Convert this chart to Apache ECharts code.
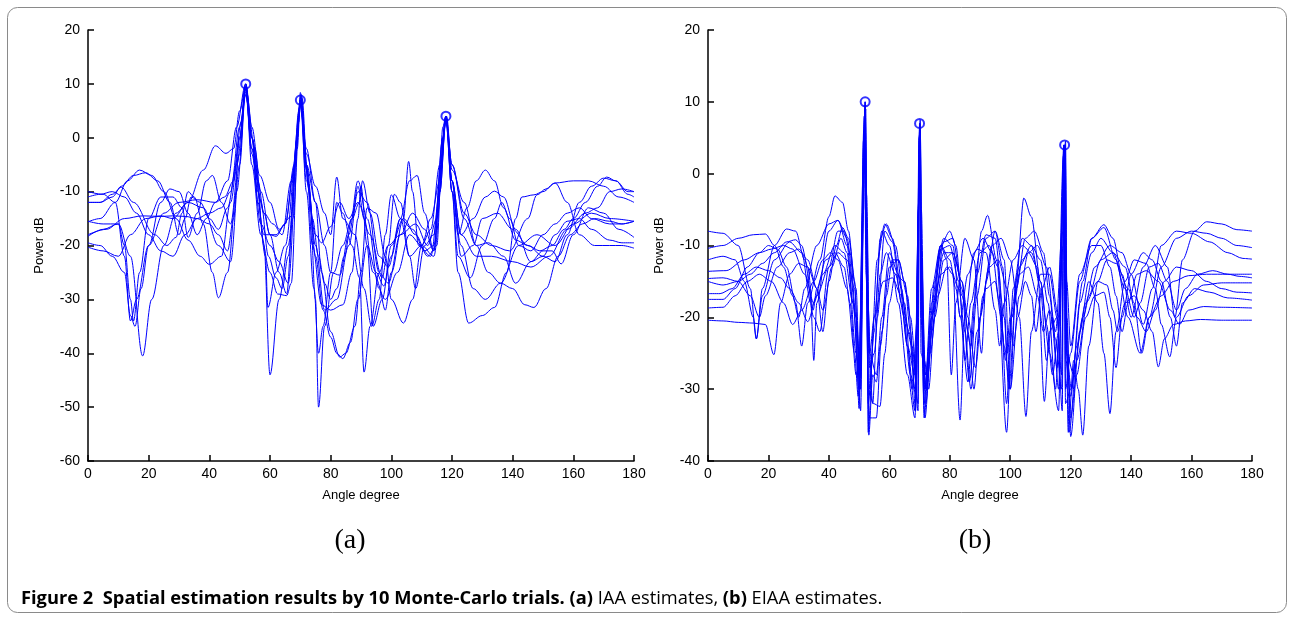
<!DOCTYPE html>
<html><head><meta charset="utf-8">
<script src="https://cdn.jsdelivr.net/npm/echarts@6/dist/echarts.min.js"></script>
<style>html,body{margin:0;padding:0;background:#fff}#c{width:1293px;height:620px}</style>
</head><body><div id="c"></div>
<script>
// ---------- axes ----------
const angleTicks = [0,20,40,60,80,100,120,140,160,180];
const powerTicksA = [-60,-50,-40,-30,-20,-10,0,10,20];
const powerTicksB = [-40,-30,-20,-10,0,10,20];
// ---------- true source peaks (circles) ----------
const peaksA = [[52,10],[70,7],[118,4]];
const peaksB = [[52,10],[70,7],[118,4]];
// ---------- (a) IAA, 10 trials: [angle, dB] ----------
const iaa01 = [[0,-10],[5,-10.5],[9,-12],[12,-22],[14,-34],[16,-30],[20,-20],[25,-14],[30,-12],[36,-11.5],[42,-12],[46,-8],[49,2],[52,10],[54,0],[58,-18],[62,-18],[65,-16],[68,-5],[70,7],[72,-5],[75,-20],[78,-32],[82,-30],[86,-20],[89,-10],[92,-12],[96,-25],[99,-27],[103,-18],[108,-16],[112,-20],[115,-15],[118,4],[120,-10],[123,-20],[127,-28],[131,-30],[136,-27],[142,-20],[148,-18],[154,-20],[160,-16],[166,-14],[172,-15],[180,-15.5]];
const iaa02 = [[0,-18.3],[5,-17],[10,-16],[14,-22],[18,-40.5],[21,-30],[25,-20],[29,-14],[33,-12],[38,-13],[43,-20],[47,-23],[50,-5],[52,9],[55,-2],[58,-20],[60,-44],[63,-30],[66,-20],[69,0],[70,7.5],[73,-10],[75,-30],[76,-50],[78,-35],[81,-25],[84,-20],[87,-15],[89,-9],[91,-15],[94,-25],[98,-30],[102,-25],[106,-18],[110,-20],[114,-22],[118,3],[120,-10],[122,-25],[125.5,-34.4],[130,-33],[134,-31.5],[138,-25],[141,-15],[143,-11],[147,-10.6],[150,-10],[154,-8.4],[160,-8],[165,-8],[170,-9],[175,-11],[180,-12]];
const iaa03 = [[0,-15.6],[4,-15],[9,-12],[13,-8],[17,-6],[21,-7],[25,-10],[29,-15],[33,-19],[37,-22],[40,-23.5],[44,-22],[47,-12],[50,0],[52,10],[54,2],[56.6,-7],[60,-12],[63,-17],[67,-14.6],[69.5,5],[70.3,8],[72,-5],[74,-20],[77,-31],[80,-32],[84,-31],[87,-25],[89,-15],[90,-9],[92,-20],[94,-35],[97,-30],[100,-20],[104,-15],[108,-18],[112,-22],[115,-20],[117,2],[118,4],[120,-8],[123,-18],[128,-22],[133,-22],[140,-23],[146,-24],[152,-22],[158,-17],[164,-14],[168,-13],[172,-10],[176,-9.5],[180,-10]];
const iaa04 = [[0,-20.3],[5,-21],[10,-22],[14,-18],[19,-15],[24,-14.5],[28,-15],[33,-12],[38,-6],[42,-1.5],[45.5,-2.9],[48,-2],[50,5],[52,9.5],[54,0],[57,-10],[60,-18],[63,-25],[65.5,-29],[67.5,-15],[70,6],[72,-3],[75,-9],[78,-14],[80,-18],[82,-7.3],[84,-15],[88,-18],[91,-28],[93.5,-35],[96,-30],[98,-18],[100,-10.6],[103,-15],[106,-22],[110,-20],[113,-17],[116,-5],[118,4],[120,-5],[124,-15],[128,-20],[132,-19.5],[137,-22],[141,-27],[146,-23],[150,-21],[153,-21],[156,-23.4],[160,-18],[165,-13],[170,-14],[175,-17],[180,-18.5]];
const iaa05 = [[0,-12],[4,-12],[8,-10.5],[11,-9.2],[15,-12],[22,-18],[26,-20],[29,-18.5],[31,-14],[33,-10],[35,-11],[38,-16],[41,-25],[43,-29.7],[46,-25],[49,-10],[52,8],[54,0],[56,-12],[58.5,-22],[59.3,-31.5],[62,-25],[65,-20],[69,-2],[70,7],[72,-5],[75,-12],[78,-20],[80,-25],[83,-25.5],[86,-18],[89,-8],[92,-15],[96,-28],[98,-32],[100,-25],[104,-15],[105.7,-4.4],[107,-10],[109,-20],[113,-22],[116,-10],[118,3.5],[120,-5],[124,-14],[128,-18],[133,-20],[139,-21],[145,-15],[148,-10.6],[151,-9.5],[154,-8.4],[158,-12],[162,-18],[167,-20],[172,-20],[176,-20],[180,-20.5]];
const iaa06 = [[0,-19.5],[4,-20],[8,-22],[12,-25],[14,-33],[15.5,-35],[17.5,-28],[20,-20],[24,-12],[27,-9.5],[30,-10],[33,-14],[36,-18],[39,-15],[42,-12],[45,-11],[48,-8],[50.5,3],[52,10],[54,0],[56,-8],[58,-14],[61,-16],[64,-18],[67,-8],[70,6],[72,-8],[75,-18],[77,-19.5],[80,-16.5],[83,-12],[86,-15],[89,-12],[93,-18],[97,-26],[99,-20],[101,-10.5],[103,-12],[106,-22],[108,-28],[111,-20],[114,-18],[117,0],[118,4],[120,-8],[123,-22],[127,-20],[130,-15],[135,-14],[140,-17],[145,-20],[150,-22],[154,-23],[158,-18],[162,-12],[166,-9],[170,-7.5],[174,-8],[178,-10],[180,-10]];
const iaa07 = [[0,-18],[6,-17],[12,-15],[18,-14.5],[24,-14.6],[28,-14.5],[32,-14.6],[36,-15],[40,-16],[43,-18],[46,-21],[48,-15],[50,0],[52,9],[54,-3],[57,-16],[60,-20],[63,-23],[66,-27],[69.5,3],[70,8.4],[72,-10],[74.5,-28],[76,-40],[77.5,-35],[80,-25],[82,-12],[84,-14],[87,-20],[89.5,-26],[91,-43.5],[93,-35],[96,-25],[99,-20],[103,-18],[107,-14],[111,-17],[114,-21],[116,-10],[118,3],[120,-10],[122,-22],[126,-26],[130,-20],[134,-15],[136.4,-12],[139,-15],[142,-20],[146,-21],[150,-18],[154,-16],[158,-14],[162,-13],[166,-15],[172,-16],[176,-16],[180,-15.5]];
const iaa08 = [[0,-11],[4,-10.5],[8,-10],[12,-11],[16,-14],[20,-18],[24,-21],[28,-22],[32,-18],[36,-15],[40,-14],[44,-13],[47,-10],[50,2],[52,8.5],[54,-2],[56,-10],[58,-14],[60,-18],[62,-18.3],[65,-16],[68,-6],[70,6.5],[72,-2],[75,-12],[77,-25],[80,-36],[83,-40.7],[85,-40],[88,-35],[90,-25],[92,-13],[95,-14],[98,-22],[100,-30],[104,-34.4],[107,-30],[110,-20],[113,-15],[116,-8],[118,3.5],[120,-8],[123,-18],[127,-15],[131,-11],[134,-9.9],[137,-11],[141,-17],[146,-23],[150,-22],[154,-18],[158,-15.5],[162,-15],[166,-17],[172,-19],[176,-19.5],[180,-19.5]];
const iaa09 = [[0,-12],[4,-12],[8,-11],[11,-9],[15,-7],[19,-6.5],[23,-8],[27,-12],[30,-18],[32,-15],[34,-11],[37,-12],[40,-15],[43,-17],[46,-13],[49,-5],[52,8],[54,-2],[57,-12],[59.5,-22],[62,-26],[64,-28],[66,-22],[69,0],[70,7],[72,-6],[74,-15],[76,-22],[78,-27],[80,-30],[82,-28],[84.5,-22],[87,-15],[89.5,-12],[90.5,-8],[93,-14],[96,-22],[99,-24],[103,-15],[106,-8],[108.5,-7],[111,-14],[114,-21],[116.5,-5],[118,4],[120,-8],[122,-18],[125,-13],[128,-8],[131,-6],[134,-8],[137,-13],[141,-19],[145,-20],[149,-21],[153,-20],[157,-17],[160,-15],[164,-12],[168,-9],[171,-7.3],[174,-8],[178,-10.5],[180,-11]];
const iaa10 = [[0,-15.5],[5,-16],[10,-16],[12,-20],[14,-30],[15,-34],[17,-25],[20,-15],[24,-11],[28,-11],[31,-13],[33,-18.5],[36,-14],[39,-8],[41,-7],[44,-12],[47,-16],[50,-3],[52,9.5],[54,-5],[57,-18],[60,-25],[62.5,-29],[65.5,-29.3],[67,-27],[69.5,4],[70.5,7.5],[72.5,-8],[75,-22],[77.5,-32],[80,-37],[82,-40],[84,-41],[86.5,-38],[89,-30],[92,-20],[95,-25],[97.5,-27.5],[100,-22],[103,-15],[107,-17],[111,-21],[114,-20],[117,0],[118.2,4],[120,-6],[124,-12],[128,-20],[132,-25],[136,-27],[140,-28],[144,-31],[147,-31.5],[151,-28],[155,-22],[159,-18],[163,-16],[167,-15],[172,-15.5],[176,-16],[180,-15.5]];
// ---------- (b) EIAA, 10 trials: [angle, dB] ----------
const eiaa01 = [[0,-8],[5,-8.3],[10,-10],[14,-16],[16,-23],[18,-17],[22,-12],[27,-9.5],[31,-11],[34,-18],[35,-26],[36,-18],[40,-8],[43,-6.5],[46,-9],[49,-20],[50.5,-33],[51.5,-5],[52,10],[52.5,-10],[53,-36],[55,-20],[57.5,-8],[60,-10],[63,-18],[66,-28],[68.5,-34],[69.6,-5],[70,7],[70.4,-8],[71.5,-34],[74,-18],[77,-10],[79,-12],[80.5,-28],[82,-18],[85,-9],[88,-12],[90.5,-25],[92,-15],[95,-8],[98,-12],[100,-30],[102,-15],[104.5,-3.4],[107,-6],[110,-15],[113,-25],[116,-33],[117.7,4],[118.3,-30],[120,-25],[123,-15],[127,-9],[131,-7.1],[134,-9],[137,-14],[140,-20],[144,-13],[148,-10],[152,-13],[154.5,-20],[157,-12],[161,-8],[165,-6.7],[170,-7],[175,-7.8],[180,-8]];
const eiaa02 = [[0,-10.4],[5,-10],[10,-9],[15,-8.5],[19,-8.4],[22,-10],[25,-13],[28,-17],[30,-20],[32,-16],[36,-10],[40,-7],[43,-6.5],[46,-10],[49,-25],[50.5,-30],[51.5,4],[52,9],[52.5,-12],[53.5,-30],[56,-12],[58.5,-7],[61,-9],[64,-16],[67,-28],[69,-31],[69.8,5],[70.2,6],[70.8,-20],[72,-30],[75,-15],[78,-9],[81,-10],[83.5,-20],[86,-29],[88,-18],[90.5,-8],[92.5,-5.8],[95.5,-12],[98.8,-36],[101,-16],[104,-9],[107,-10],[110,-16],[112,-26],[114,-20],[116,-30],[117.7,3],[118.3,-32],[120,-30],[124,-15],[127,-9],[131,-7.5],[135,-12],[139,-20],[143,-25],[146,-20],[150,-13],[155,-9],[160,-8],[165,-8.3],[170,-9],[175,-10],[180,-10.3]];
const eiaa03 = [[0,-12],[5,-11.5],[9,-12],[12,-15],[15,-20],[16,-23],[18,-16],[22,-10],[26,-7.7],[29,-8],[32,-12],[35,-20],[37,-22],[40,-13],[43,-8],[45,-8],[47,-11],[49,-20],[50.5,-28],[51.5,-2],[52,8],[52.5,-15],[54.5,-32],[56,-20],[58.5,-8],[61,-9.5],[64,-18],[66,-24],[68.5,-28],[69.7,-4],[70,6.5],[70.5,-10],[72,-28],[74,-20],[77,-10],[80,-8],[82,-10],[84,-17],[87,-24],[89,-14],[92,-8.5],[95,-9],[98,-20],[99.5,-30],[102,-16],[105,-9],[108,-8],[111,-11],[113,-17],[115.5,-27],[117.6,2.5],[118.2,4],[118.7,-25],[121,-28],[124,-20],[128,-13],[133,-10],[137,-11],[140,-14],[144,-21],[147,-16],[150,-10],[155,-8],[160,-8.3],[166,-9.5],[172,-11],[177,-11.8],[180,-11.9]];
const eiaa04 = [[0,-13.6],[6,-13.5],[12,-12],[17,-11],[21,-10.5],[25,-10],[28,-10.5],[32,-14],[35,-18],[38,-14],[42,-10],[45,-11],[48,-18],[50,-30],[51.6,0],[52,7],[52.4,-5],[53.5,-25],[55.7,-28],[57.5,-20],[60,-11],[63,-14],[66,-24],[68.5,-33],[69.8,-3],[70.1,6],[70.5,-15],[71.8,-34],[74,-22],[77,-10.5],[80,-10],[83,-15],[85,-26],[87,-18],[90,-11],[93,-10],[96,-13],[98,-24],[100,-30],[103,-17],[106,-11],[109,-10],[112,-13],[115,-22],[117.6,-5],[118,4],[118.5,-20],[119.5,-36],[122,-26],[126,-17],[130,-12],[134,-11],[138,-13],[141,-18],[143.5,-25],[146,-20],[150,-17],[154,-15],[159,-14.2],[165,-14],[172,-14],[180,-14]];
const eiaa05 = [[0,-14.6],[5,-14.5],[10,-15],[14,-17],[17,-20],[19,-17],[23,-13],[27,-11],[30,-10.5],[33,-12],[36,-16],[38,-22],[40,-15],[42.5,-10],[44.5,-7.5],[46.5,-9],[49,-16],[50.3,-30],[51.4,4.5],[51.8,8],[52.3,-5],[53,-32],[55,-22],[57,-9],[59,-7],[62,-10],[65,-18],[67.5,-30],[69.3,-20],[69.9,5],[70.2,7],[70.6,-20],[72.2,-30],[75,-18],[78,-9.5],[81,-9],[84,-16],[86.5,-29],[89,-17],[92,-9],[95,-8],[97.5,-13],[99,-25],[100.5,-20],[104,-12],[107,-10],[110,-12],[112.5,-18],[115,-30],[117.4,-8],[117.9,3],[118.5,-25],[120.3,-30],[123,-18],[127,-11],[130,-9],[134,-11],[138,-16],[141,-20],[143,-18],[146,-13],[149,-12.5],[152,-15],[155,-19],[158,-16],[162,-14],[167,-13.5],[172,-14],[176,-14.3],[180,-14.5]];
const eiaa06 = [[0,-15],[5,-15.5],[10,-15],[14,-14],[18,-12.5],[22,-11],[26,-9.5],[29,-9.2],[31,-10],[33,-13],[34.8,-19],[36,-16],[39,-12],[42,-11],[45,-13],[47,-18],[49,-28],[50.5,-25],[51.5,6],[52,9.5],[52.5,-8],[53.2,-36.4],[54.5,-28],[55.7,-29],[57,-24],[59,-17],[61,-12],[63,-12],[65,-15],[67,-22],[68.7,-33],[69.8,0],[70.2,6],[70.6,-10],[71.5,-30],[73.5,-25],[76,-17],[79,-13],[81,-14],[83.4,-34.3],[85,-20],[88,-11],[91,-9],[94,-11],[96.5,-18],[98.5,-26],[100,-20],[103,-13],[106,-11],[109,-13],[111.3,-31.7],[113,-22],[115.5,-20],[117,-28],[117.8,4],[118.2,-10],[119.2,-36],[121,-26],[122.5,-30],[124,-36.4],[126,-24],[129,-15],[132,-12],[135,-12.5],[139,-16],[142,-20],[145,-22],[148,-19],[151,-15],[155,-13],[160,-13.5],[165,-15],[170,-16],[175,-16.5],[180,-16.6]];
const eiaa07 = [[0,-16.7],[4,-16.7],[8,-16],[12,-14],[16,-13],[20,-13.5],[24,-14.5],[27,-16],[30,-18],[33,-20.6],[36,-17],[40,-13],[43,-11],[46,-12],[48.5,-16],[50,-26],[51.2,-5],[51.7,8],[52.2,-10],[53,-30],[54.7,-32],[56.9,-32.4],[58.5,-25],[60,-18],[62,-14],[65,-15],[67,-20],[69,-28],[69.8,-3],[70.2,7.5],[70.6,-5],[71.6,-26],[73,-30],[75,-20],[78,-12],[81,-11],[84,-15],[86,-22],[88,-30],[90,-20],[93,-13],[96,-12],[99,-16],[101,-24],[102.5,-20],[105,-15],[107,-17],[108.5,-22],[110.5,-16],[113,-13],[116,-20],[117.5,-10],[118,4],[118.6,-20],[120,-34],[122,-28],[125,-20],[128,-17],[131,-16.5],[133,-20],[135,-27],[137,-20],[140,-14],[144,-11],[147,-12],[150,-15],[153,-20],[155,-24],[157,-18],[161,-16],[166,-16.5],[172,-17.3],[180,-17.6]];
const eiaa08 = [[0,-17.5],[5,-17.5],[9,-16],[13,-13],[17,-11],[20,-10],[23,-10.5],[26,-13],[29,-18],[31,-24],[33,-18],[37,-12],[40,-6],[42,-3.1],[44.5,-4],[46.5,-8],[48.5,-15],[50,-32.7],[51,-10],[51.6,5],[52,10],[52.5,-3],[53.5,-27],[55,-25],[57,-14],[59,-11],[62,-14],[65,-20],[67.5,-24],[69.5,-32],[70,6],[70.5,-20],[71.5,-32],[74,-16],[77,-10],[80,-12],[82,-16],[83.5,-20],[86,-14],[89,-10.5],[92,-11],[95,-19],[96.5,-24],[98,-18],[101,-12],[104,-10],[107,-11],[110,-15],[112,-21],[114,-28],[116,-22],[117.7,0],[118.2,3.5],[118.7,-15],[120,-24],[123,-14],[127,-10],[130,-10],[133,-13],[135,-17],[137,-22],[139,-18],[142,-14],[145,-13.5],[149,-15],[153,-19],[156,-21],[159,-19],[164,-18.5],[170,-18.6],[180,-18.7]];
const eiaa09 = [[0,-18.7],[5,-18.6],[9,-17],[13,-15],[17,-14],[21,-15],[25,-18],[28,-21],[31,-19],[35,-15],[38,-12],[40.5,-11],[43,-12],[46,-16],[48.5,-25],[49.7,-31],[51,-12],[51.8,6],[52.2,9],[52.6,-18],[53.5,-25],[55,-20],[58,-15],[61,-14.5],[64,-17],[66.5,-22],[68.5,-30],[69.7,-5],[70,6],[70.5,-25],[72,-28],[74,-20],[77,-14],[80,-13],[83,-16],[85,-22],[87,-30],[89,-22],[92,-16],[95,-15],[97,-20],[98.8,-32],[100.5,-20],[103,-14],[106,-13],[109,-17],[111,-22],[113,-19],[115,-23],[117,-30],[117.9,4],[118.4,-26],[120,-31],[122,-24],[125,-18],[129,-15],[132,-15.5],[134,-19],[135.5,-22],[138,-18],[141,-17],[144,-19],[147,-22],[149,-26.9],[151,-23],[154,-21],[158,-20.5],[163,-20.3],[170,-20.4],[180,-20.4]];
const eiaa10 = [[0,-20.4],[5,-20.5],[10,-20.7],[15,-20.8],[19,-21],[21.8,-25.2],[24,-18],[27,-14],[30,-12.5],[33,-13],[36,-16],[38,-19],[41,-13],[44,-9],[46,-11],[48,-18],[50,-28],[51.3,0],[51.9,7],[52.3,-14],[53.3,-34],[55.7,-34],[57.5,-22],[60,-13],[63,-12],[66,-17],[68,-26],[69.5,-33],[69.9,3],[70.3,5],[70.7,-18],[72,-32],[75,-17],[78,-11],[81,-11],[84,-15],[86,-20],[88.5,-27],[91,-17],[94,-10],[97,-9],[100,-12],[103,-20],[105.2,-33.8],[107,-22],[110,-14],[113,-14],[115.5,-20],[117.2,-33],[117.8,2],[118.3,4.5],[118.8,-20],[120,-36.6],[123,-22],[126,-15],[129,-18],[131,-25],[133,-33.4],[135,-22],[138,-15],[141,-12],[145,-12.5],[148,-16],[150,-21],[152.8,-25.5],[155,-20],[159,-17],[164,-15.5],[170,-15.2],[180,-15.2]];

const iaaTrials = [iaa01,iaa02,iaa03,iaa04,iaa05,iaa06,iaa07,iaa08,iaa09,iaa10];
const eiaaTrials = [eiaa01,eiaa02,eiaa03,eiaa04,eiaa05,eiaa06,eiaa07,eiaa08,eiaa09,eiaa10];

const BLUE = '#0000ff';
const FONT = 'Liberation Sans, Arial, sans-serif';

function xAx(gi){
  return {type:'value',gridIndex:gi,min:0,max:180,interval:20,
    name:'Angle degree',nameLocation:'middle',nameGap:28,
    nameTextStyle:{fontFamily:FONT,fontSize:13,color:'#000'},
    axisLine:{onZero:false,lineStyle:{color:'#000',width:1.5}},
    axisTick:{inside:true,length:6,lineStyle:{color:'#000',width:1.5}},
    axisLabel:{fontFamily:FONT,fontSize:14,color:'#000',margin:6},
    splitLine:{show:false}};
}
function yAx(gi,min,max){
  return {type:'value',gridIndex:gi,min:min,max:max,interval:10,
    name:'Power dB',nameLocation:'middle',nameGap:42,
    nameTextStyle:{fontFamily:FONT,fontSize:13,color:'#000'},
    axisLine:{show:true,onZero:false,lineStyle:{color:'#000',width:1.5}},
    axisTick:{show:true,inside:true,length:6,lineStyle:{color:'#000',width:1.5}},
    axisLabel:{fontFamily:FONT,fontSize:14,color:'#000',margin:8},
    splitLine:{show:false}};
}

const series = [];
iaaTrials.forEach(d=>series.push({type:'line',xAxisIndex:0,yAxisIndex:0,data:d,showSymbol:false,
  smooth:0.35,smoothMonotone:'x',lineStyle:{color:BLUE,width:1},silent:true,animation:false}));
eiaaTrials.forEach(d=>series.push({type:'line',xAxisIndex:1,yAxisIndex:1,data:d,showSymbol:false,
  smooth:0.3,smoothMonotone:'x',lineStyle:{color:BLUE,width:1},silent:true,animation:false}));
series.push({type:'scatter',xAxisIndex:0,yAxisIndex:0,data:peaksA,symbol:'emptyCircle',symbolSize:9,
  itemStyle:{color:BLUE,borderColor:BLUE,borderWidth:1},animation:false});
series.push({type:'scatter',xAxisIndex:1,yAxisIndex:1,data:peaksB,symbol:'emptyCircle',symbolSize:9,
  itemStyle:{color:BLUE,borderColor:BLUE,borderWidth:1},animation:false});

const chart = echarts.init(document.getElementById('c'),null,{renderer:'canvas'});
chart.setOption({
  animation:false,
  backgroundColor:'#fff',
  grid:[{left:88,top:30,width:546,height:431},{left:708,top:30,width:544,height:431}],
  xAxis:[xAx(0),xAx(1)],
  yAxis:[yAx(0,-60,20),yAx(1,-40,20)],
  series:series,
  graphic:[
    {type:'rect',shape:{x:7.5,y:7.5,width:1279,height:605,r:10},style:{fill:'none',stroke:'#8a8a8a',lineWidth:1},silent:true},
    {type:'text',x:350,y:541,style:{text:'(a)',font:'28px "Liberation Serif", "Times New Roman", serif',fill:'#000',textAlign:'center',textVerticalAlign:'middle'}},
    {type:'text',x:975,y:541,style:{text:'(b)',font:'28px "Liberation Serif", "Times New Roman", serif',fill:'#000',textAlign:'center',textVerticalAlign:'middle'}},
    {type:'text',x:21,y:599,style:{
      text:'{b|Figure 2  Spatial estimation results by 10 Monte-Carlo trials. (a)}{n| IAA estimates, }{b|(b)}{n| EIAA estimates.}',
      textVerticalAlign:'middle',
      rich:{b:{fontFamily:'Open Sans',fontWeight:'bold',fontSize:18.3,color:'#000'},
            n:{fontFamily:'Open Sans',fontSize:18.3,color:'#000'}}}}
  ]
});
</script></body></html>
